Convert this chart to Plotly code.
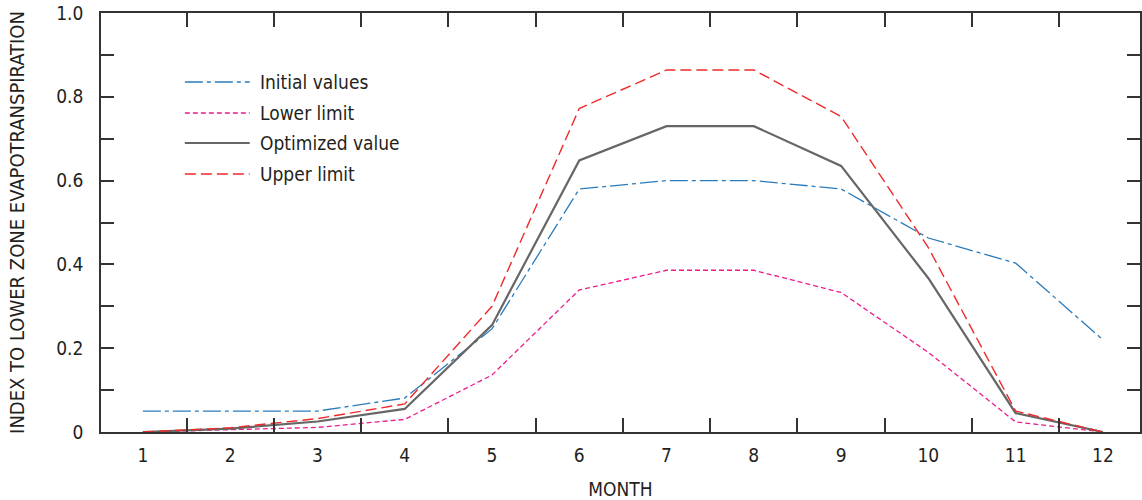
import plotly.graph_objects as go

months = [1, 2, 3, 4, 5, 6, 7, 8, 9, 10, 11, 12]
initial_values = [0.05, 0.05, 0.05, 0.081, 0.246, 0.58, 0.60, 0.60, 0.58, 0.463, 0.403, 0.22]
lower_limit = [0.0, 0.005, 0.011, 0.03, 0.136, 0.339, 0.386, 0.386, 0.333, 0.19, 0.024, 0.0]
optimized_value = [0.0, 0.008, 0.025, 0.055, 0.255, 0.648, 0.73, 0.73, 0.635, 0.367, 0.045, 0.0]
upper_limit = [0.0, 0.01, 0.032, 0.067, 0.30, 0.772, 0.864, 0.864, 0.753, 0.44, 0.05, 0.0]

series_names = ["Initial values", "Lower limit", "Optimized value", "Upper limit"]
x_tick_labels = [str(m) for m in months]
y_tick_vals = [0, 0.2, 0.4, 0.6, 0.8, 1.0]
y_tick_labels = ["0", "0.2", "0.4", "0.6", "0.8", "1.0"]

FONT = "Liberation Sans Narrow, DejaVu Sans Condensed, Arial Narrow, sans-serif"
TXT = "#231f20"
AX = "#333333"

styles = [
    dict(color="#2b7bba", width=1.3, dash="18px,4px,4px,4px"),
    dict(color="#ec1c8c", width=1.3, dash="5px,3px"),
    dict(color="#666666", width=2.2, dash="solid"),
    dict(color="#ee2a2a", width=1.4, dash="11px,5px"),
]
data = [initial_values, lower_limit, optimized_value, upper_limit]

fig = go.Figure()
for name, ys, st in zip(series_names, data, styles):
    fig.add_trace(go.Scatter(x=months, y=ys, mode="lines", name=name,
                             line=st, showlegend=False))

W, H = 1142, 500
L, R, T, B = 101, 0, 13, 68
pw = W - L - R
ph = H - T - B

def px2paper(px, py):
    return (px - L) / pw, (H - B - py) / ph

legend_rows = [82, 113, 143, 174]
for name, st, py in zip(series_names, styles, legend_rows):
    x0, y0 = px2paper(185, py)
    x1, _ = px2paper(250, py)
    fig.add_shape(type="line", xref="paper", yref="paper", x0=x0, x1=x1, y0=y0, y1=y0,
                  line=st)
    xt, _ = px2paper(258, py)
    fig.add_annotation(xref="paper", yref="paper", x=xt, y=y0, text=name,
                       showarrow=False, xanchor="left", yanchor="middle",
                       font=dict(family=FONT, size=19, color=TXT))

fig.update_xaxes(
    range=[0.52, 12.425],
    tickvals=months, ticktext=x_tick_labels, ticks="",
    minor=dict(tickvals=[m + 0.5 for m in months[:-1]], ticks="inside", ticklen=14,
               tickcolor=AX, tickwidth=1.5, showgrid=False),
    showline=True, linecolor=AX, linewidth=1.5, mirror="ticks",
    showgrid=False, zeroline=False,
    ticklabelstandoff=5,
    tickfont=dict(family=FONT, size=19, color=TXT),
    title=dict(text="MONTH", font=dict(family=FONT, size=19, color=TXT), standoff=20),
)
fig.update_yaxes(
    range=[0, 1.0],
    tickvals=y_tick_vals, ticktext=y_tick_labels,
    ticks="inside", ticklen=13, tickcolor=AX, tickwidth=1.5,
    minor=dict(dtick=0.1, ticks="inside", ticklen=13, tickcolor=AX, tickwidth=1.5, showgrid=False),
    showline=True, linecolor=AX, linewidth=1.5, mirror="ticks",
    showgrid=False, zeroline=False,
    ticklabelstandoff=12,
    tickfont=dict(family=FONT, size=19, color=TXT),
    title=dict(text="INDEX TO LOWER ZONE EVAPOTRANSPIRATION",
               font=dict(family=FONT, size=20, color=TXT), standoff=26),
)

fig.update_layout(
    width=W, height=H,
    margin=dict(l=L, r=R, t=T, b=B),
    plot_bgcolor="white", paper_bgcolor="white",
    showlegend=False,
)

fig.write_html("out.html")
